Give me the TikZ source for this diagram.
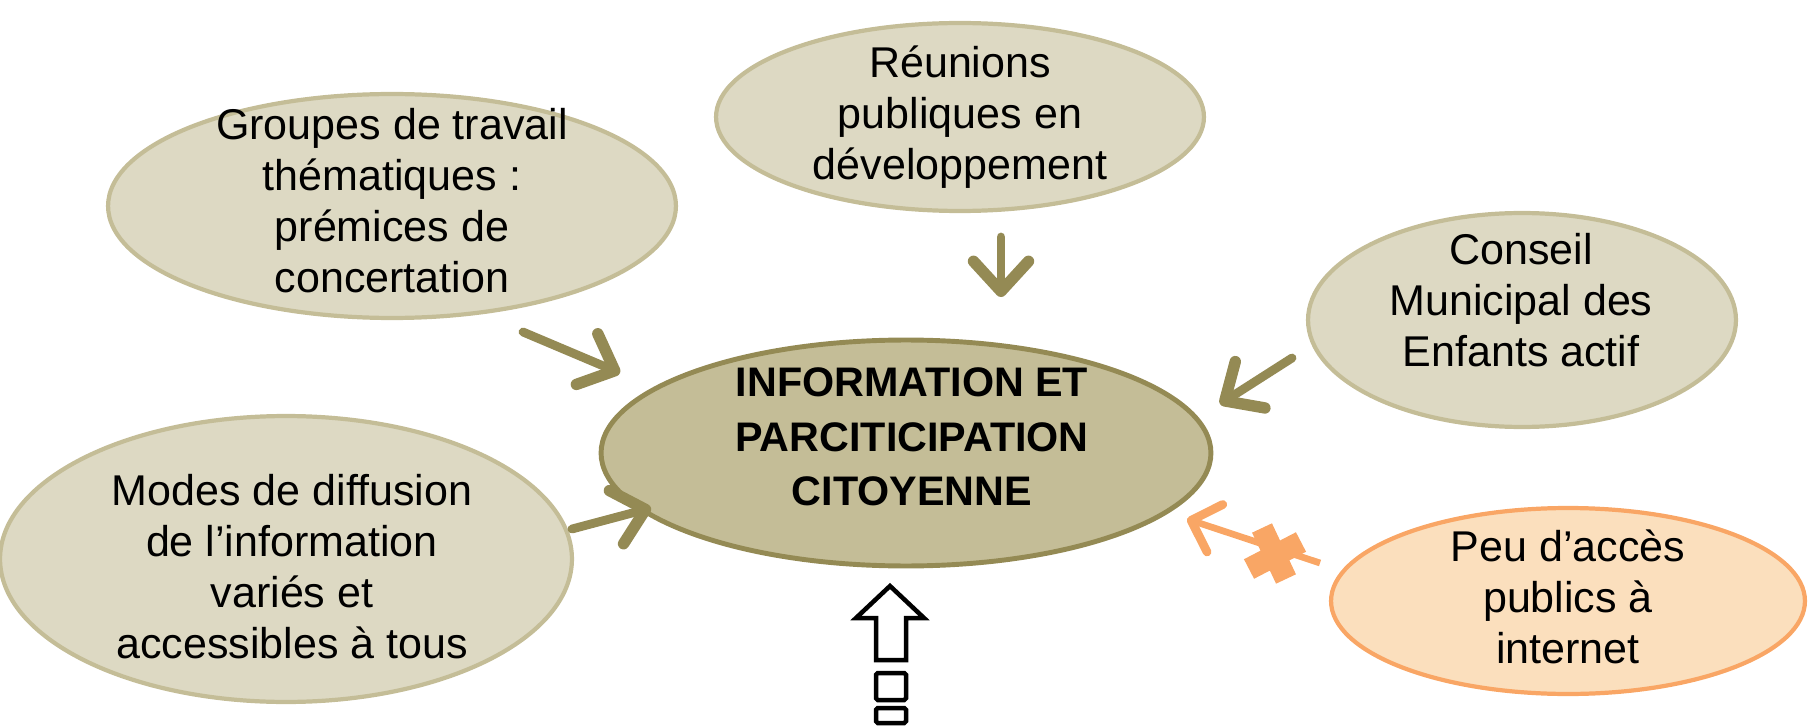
\documentclass[tikz,border=0pt]{standalone}
\usepackage{fontspec}
\setmainfont{Liberation Sans}
\usetikzlibrary{arrows.meta, shapes.geometric}
\definecolor{sand}{HTML}{DDD9C3}
\definecolor{sandline}{HTML}{C4BD97}
\definecolor{olive}{HTML}{948A54}
\definecolor{peach}{HTML}{FBDFBD}
\definecolor{apricot}{HTML}{F9A665}
\tikzset{
  bubble/.style={ellipse, draw=sandline, fill=sand, line width=2.4pt, inner sep=0pt},
  btext/.style={align=center, inner sep=0pt, font=\fontsize{24.5}{29}\selectfont},
  feed/.style={olive, line width=5pt, line cap=round, -{Straight Barb[length=6mm, width=11mm, line width=6.5pt, round]}},
}

\begin{document}
\begin{tikzpicture}[x=0.02cm, y=-0.02cm]
  \useasboundingbox (0,0) rectangle (1812,726);

  \node[bubble, minimum width=11.36cm, minimum height=4.48cm] (grp) at (392,206) {};
  \node[bubble, minimum width=9.76cm, minimum height=3.76cm] (reu) at (960,117) {};
  \node[bubble, minimum width=8.56cm, minimum height=4.28cm] (cme) at (1522,320) {};
  \node[bubble, minimum width=11.44cm, minimum height=5.72cm] (mod) at (286,559) {};
  \node[bubble, draw=apricot, fill=peach, minimum width=9.48cm, minimum height=3.72cm] (peu) at (1568,601) {};
  \node[bubble, draw=olive, fill=sandline, line width=2.8pt, minimum width=12.2cm, minimum height=4.52cm] (info) at (906,453) {};

  \node[btext] (grp-t) at (392,201) {Groupes de travail\\thématiques :\\prémices de\\concertation};
  \node[btext] (reu-t) at (960,117) {Réunions\\publiques en\\développement};
  \node[btext] (cme-t) at (1521,300) {Conseil\\Municipal des\\Enfants actif};
  \node[btext] (mod-t) at (292,567) {Modes de diffusion\\de l’information\\variés et\\accessibles à tous};
  \node[btext] (peu-t) at (1568,597) {Peu d’accès\\publics à\\internet};
  \node[btext, font=\fontsize{23.5}{31}\bfseries] (info-t) at (912,437) {INFORMATION ET\\PARCITICIPATION\\CITOYENNE};

  % arrow ends
  \coordinate (grp-a) at (523,332);  \coordinate (grp-b) at (620,373);
  \coordinate (reu-a) at (1001,237); \coordinate (reu-b) at (1001,297);
  \coordinate (cme-a) at (1292,358); \coordinate (cme-b) at (1220,404);
  \coordinate (mod-a) at (572,529);  \coordinate (mod-b) at (651,508);
  \coordinate (peu-a) at (1320,563); \coordinate (peu-b) at (1187,519);

  \draw[feed] (grp-a) -- (grp-b);
  \draw[feed] (reu-a) -- (reu-b);
  \draw[feed] (cme-a) -- (cme-b);
  \draw[feed] (mod-a) -- (mod-b);
  \draw[apricot, line width=3.8pt, -{Straight Barb[length=5mm, width=10mm, line width=5pt, round]}] (peu-a) -- (peu-b);
  \draw[apricot, line width=0.44cm] (1262,528) -- (1286,579) (1249,569) -- (1301,542);

  % hollow arrow
  \draw[line width=0.09cm, line join=miter, fill=white]
    (890,586) -- (924,618) -- (906,618) -- (906,660) -- (876,660) -- (876,618) -- (856,618) -- cycle;
  \draw[line width=0.09cm, rounded corners=1pt] (876,673) rectangle (906,700);
  \draw[line width=0.09cm, rounded corners=1pt] (876,708) rectangle (906,723);
\end{tikzpicture}
\end{document}
